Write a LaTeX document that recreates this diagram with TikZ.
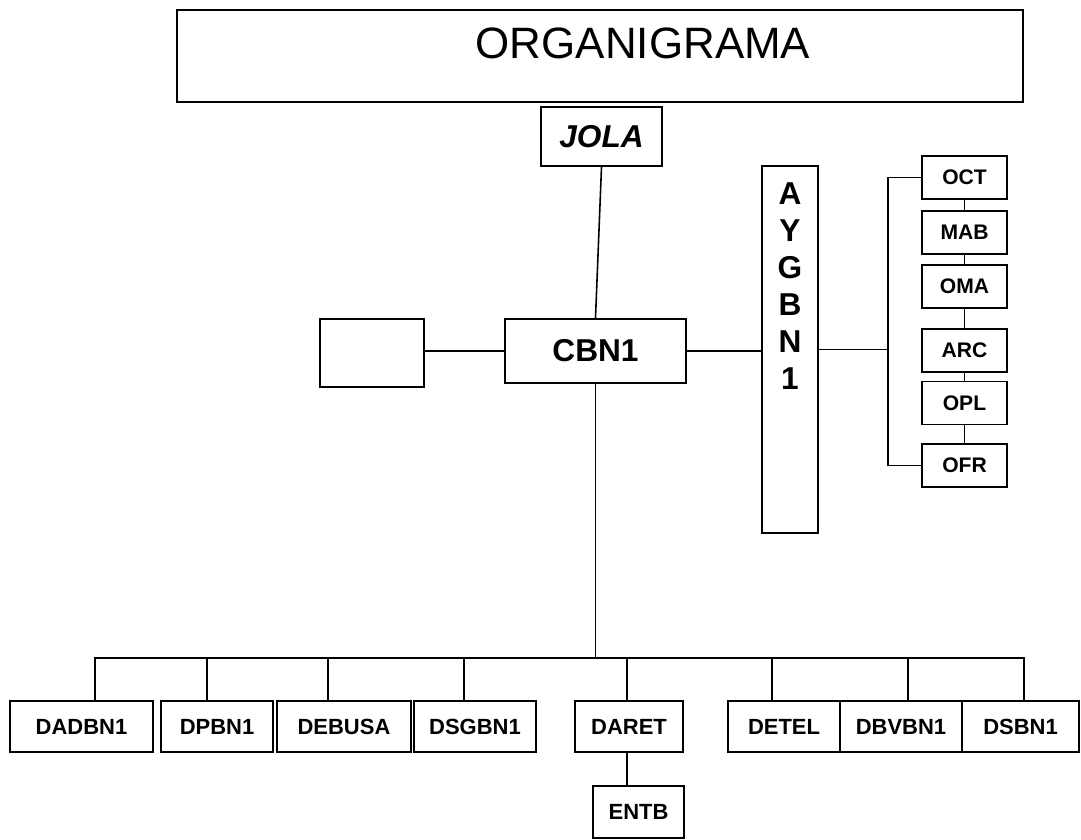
\documentclass[tikz,border=0pt]{standalone}
\usepackage{fontspec}
\setmainfont{Liberation Sans}
\usetikzlibrary{positioning}

\begin{document}
\begin{tikzpicture}[
  title/.style={rectangle, draw=black, line width=1.1pt, minimum width=16.92cm,
                minimum height=1.84cm, inner sep=0pt},
  chief/.style={rectangle, draw=black, line width=1.1pt, inner sep=0pt,
                font=\fontsize{18}{21}\selectfont\bfseries},
  side/.style={rectangle, draw=black, line width=1pt, minimum width=1.70cm,
               minimum height=0.86cm, inner sep=0pt, font=\fontsize{12}{14}\selectfont\bfseries},
  dept/.style={rectangle, draw=black, line width=1pt, minimum width=#1,
               minimum height=1.02cm, inner sep=0pt, font=\fontsize{12.5}{15}\selectfont\bfseries},
  link/.style={line width=0.9pt}
]
\useasboundingbox (0,0) rectangle (21.62,-16.8);

% ---- cabecera ----
\node[title] (org) at (12.0,-1.12) {};
\node[font=\fontsize{25}{30}\selectfont] (org-txt) at (12.86,-0.86) {ORGANIGRAMA};

% ---- direccion ----
\node[chief, minimum width=2.42cm, minimum height=1.18cm,
      font=\fontsize{18}{21}\selectfont\bfseries\itshape] (jola) at (12.03,-2.73) {JOLA};
\node[chief, minimum width=3.62cm, minimum height=1.28cm] (cbn1) at (11.91,-7.02) {CBN1};
\node[chief, minimum width=2.08cm, minimum height=1.36cm] (blank) at (7.44,-7.06) {};
\node[chief, minimum width=1.12cm, minimum height=7.34cm] (aygbn1) at (15.8,-6.99) {};
\node[align=center, font=\fontsize{18}{21}\selectfont\bfseries] (aygbn1-txt) at (15.8,-5.72)
  {A\\Y\\G\\B\\N\\1};
\draw[link] (jola.south) -- (cbn1.north);
\draw[link] (cbn1.west) -- (cbn1.west -| blank.east);
\draw[link] (cbn1.east) -- (cbn1.east -| aygbn1.west);

% ---- oficinas (derecha) ----
\node[side] (oct) at (19.29,-3.55) {OCT};
\node[side] (mab) at (19.29,-4.65) {MAB};
\node[side] (oma) at (19.29,-5.73) {OMA};
\node[side] (arc) at (19.29,-7.01) {ARC};
\node[side] (opl) at (19.29,-8.06) {OPL};
\node[side] (ofr) at (19.29,-9.31) {OFR};
\coordinate (brk) at (17.76,-6.99);
\draw[link] (aygbn1.east) -- (brk);
\draw[link] (oct.west) -| (brk) |- (ofr.west);
\foreach \a/\b in {oct/mab, mab/oma, oma/arc, arc/opl, opl/ofr}
  \draw[link] (\a) -- (\b);

% ---- direcciones (abajo) ----
\node[dept=2.86cm] (dadbn1) at (1.63,-14.53)  {DADBN1};
\node[dept=2.24cm] (dpbn1)  at (4.34,-14.53)  {DPBN1};
\node[dept=2.68cm] (debusa) at (6.88,-14.53)  {DEBUSA};
\node[dept=2.44cm] (dsgbn1) at (9.50,-14.53)  {DSGBN1};
\node[dept=2.16cm] (daret)  at (12.58,-14.53) {DARET};
\node[dept=2.24cm] (detel)  at (15.68,-14.53) {DETEL};
\node[dept=2.44cm] (dbvbn1) at (18.02,-14.53) {DBVBN1};
\node[dept=2.34cm] (dsbn1)  at (20.41,-14.53) {DSBN1};
\node[dept=1.82cm, minimum height=1.04cm] (entb) at (12.77,-16.24) {ENTB};
\coordinate (bus) at (11.91,-13.16);
\draw[link] (cbn1.south) -- (bus);
\foreach \n/\s in {dadbn1/0.27, dpbn1/-0.20, debusa/-0.32, dsgbn1/-0.22,
                   daret/-0.04, detel/-0.24, dbvbn1/0.14, dsbn1/0.07}
  \draw[link] ([xshift=\s cm]\n.north) |- (bus);
\draw[link] ([xshift=-0.04cm]daret.south) -- ([xshift=-0.04cm]daret.south |- entb.north);

\end{tikzpicture}
\end{document}
